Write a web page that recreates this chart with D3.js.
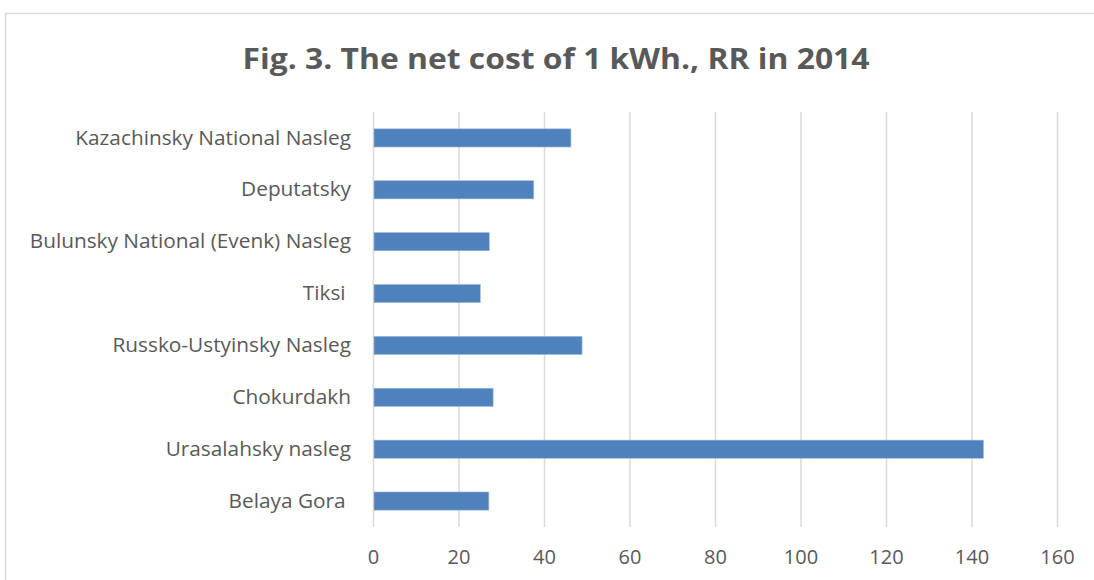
<!DOCTYPE html>
<html>
<head>
<meta charset="utf-8">
<script src="https://cdn.jsdelivr.net/npm/d3@7"></script>
<style>
  body { margin: 0; background: #fff; }
  svg { display: block; font-family: "Open Sans", sans-serif; }
</style>
</head>
<body>
<div id="chart"></div>
<script>
// categories, top to bottom as shown
const categories = [
  "Kazachinsky National Nasleg",
  "Deputatsky",
  "Bulunsky National (Evenk) Nasleg",
  "Tiksi ",
  "Russko-Ustyinsky Nasleg",
  "Chokurdakh",
  "Urasalahsky nasleg",
  "Belaya Gora "
];
const values = [46.3, 37.6, 27.2, 25.1, 48.9, 28.1, 142.8, 27.1];
const xTicks = [0, 20, 40, 60, 80, 100, 120, 140, 160];
const title = "Fig. 3. The net cost of 1 kWh., RR in 2014";

const W = 1094, H = 580;
const margin = { top: 112, right: 37, bottom: 53, left: 373 };
const width = W - margin.left - margin.right,
  height = H - margin.top - margin.bottom;

const svg = d3.select("#chart")
  .append("svg")
  .attr("width", W)
  .attr("height", H);

// outer chart frame (runs off the right and bottom)
svg.append("rect")
  .attr("x", 5.5).attr("y", 13.5)
  .attr("width", W).attr("height", H)
  .attr("fill", "none")
  .attr("stroke", "#d9d9d9")
  .attr("stroke-width", 1.5);

// title, squeezed to the width of the original narrow font
svg.append("text")
  .attr("x", 556)
  .attr("y", 69)
  .attr("text-anchor", "middle")
  .attr("fill", "#595959")
  .style("font-size", "28px")
  .style("font-weight", "bold")
  .attr("textLength", 627)
  .attr("lengthAdjust", "spacingAndGlyphs")
  .text(title);

const g = svg.append("g")
  .attr("transform", "translate(" + margin.left + "," + margin.top + ")");

const x = d3.scaleLinear().domain([0, 160]).range([0, width]);
const y = d3.scaleBand().domain(categories).range([0, height]).paddingInner(0.65).paddingOuter(0.325);

// vertical grid
g.append("g")
  .attr("class", "grid")
  .call(d3.axisBottom(x).tickValues(xTicks).tickSize(height).tickFormat(""))
  .call(s => s.select(".domain").remove())
  .call(s => s.selectAll("line").attr("stroke", "#d9d9d9").attr("stroke-width", 1.5));

// x tick labels
g.append("g")
  .attr("transform", "translate(0," + height + ")")
  .call(d3.axisBottom(x).tickValues(xTicks).tickSize(0).tickPadding(23))
  .call(s => s.select(".domain").remove())
  .call(s => s.selectAll("text")
    .attr("fill", "#595959")
    .style("font-family", "'Open Sans', sans-serif")
    .style("font-size", "20px"));

// category labels
g.append("g")
  .attr("transform", "translate(-22,0)")
  .call(d3.axisLeft(y).tickSize(0).tickPadding(0))
  .call(s => s.select(".domain").remove())
  .call(s => s.selectAll("text")
    .attr("fill", "#595959")
    .style("white-space", "pre")
    .style("font-family", "'Open Sans', sans-serif")
    .style("font-size", "20.8px"));

// bars
g.selectAll(".bar")
  .data(categories.map((c, i) => ({ name: c, value: values[i] })))
  .join("rect")
  .attr("class", "bar")
  .attr("x", x(0) + 1)
  .attr("y", d => y(d.name))
  .attr("width", d => x(d.value) - x(0) - 1)
  .attr("height", y.bandwidth())
  .attr("fill", "#4f81bd")
  .attr("stroke", "#9fb8d9")
  .attr("stroke-width", 0.6);
</script>
</body>
</html>
